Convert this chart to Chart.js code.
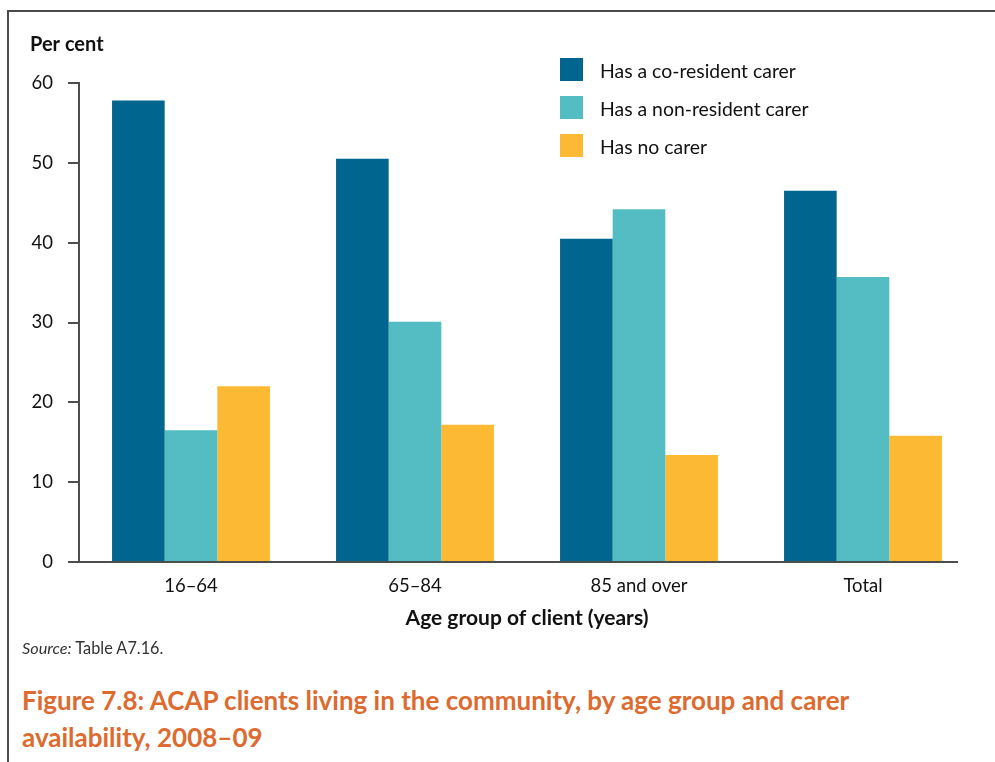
<!DOCTYPE html>
<html>
<head>
<meta charset="utf-8">
<script src="https://cdn.jsdelivr.net/npm/chart.js@4.4.1/dist/chart.umd.min.js"></script>
<style>
  body { margin: 0; background: #fff; font-family: Lato, sans-serif; }
  #frame { position: absolute; left: 7px; top: 10px; width: 1000px; height: 800px;
           border-left: 2px solid #4a4a4a; border-top: 2px solid #4a4a4a; }
  #wrap { position: absolute; left: 0; top: 0; width: 995px; height: 642px; }
  #source { position: absolute; left: 22px; top: 638px; font-size: 16.3px; color: #333; }
  #caption { position: absolute; left: 22px; top: 682px; font-size: 26px; font-weight: bold;
             color: #dd6a2f; line-height: 37px; white-space: nowrap; }
</style>
</head>
<body>
<div id="frame"></div>
<div id="wrap"><canvas id="chart" width="995" height="642"></canvas></div>
<div id="source"><i>Source:</i> Table A7.16.</div>
<div id="caption">Figure 7.8: ACAP clients living in the community, by age group and carer<br>availability, 2008–09</div>
<script>
const categories = ['16–64', '65–84', '85 and over', 'Total'];
const coResident = [57.8, 50.5, 40.5, 46.5];
const nonResident = [16.5, 30.1, 44.2, 35.7];
const noCarer = [22.0, 17.2, 13.4, 15.8];
const yTicks = [0, 10, 20, 30, 40, 50, 60];

const axisColor = '#4d4d4d';

// legend + x axis line + y title drawn by hand
const extras = {
  id: 'extras',
  afterDraw(chart) {
    const c = chart.ctx;
    const area = chart.chartArea;
    const y0 = chart.scales.y.getPixelForValue(0);
    c.save();
    c.strokeStyle = axisColor;
    c.lineWidth = 2;
    c.beginPath();
    c.moveTo(area.left - 11, y0);
    c.lineTo(area.right - 17, y0);
    c.stroke();

    c.fillStyle = '#111';
    c.font = 'bold 20px Lato';
    c.textBaseline = 'middle';
    c.fillText('Per cent', 30, 45);

    c.font = '19.4px Lato';
    chart.data.datasets.forEach((ds, i) => {
      const cy = 70 + i * 38;
      c.fillStyle = ds.backgroundColor;
      c.fillRect(560, cy - 12, 23, 23);
      c.fillStyle = '#111';
      c.fillText(ds.label, 600, cy + 2);
    });
    c.restore();
  }
};

new Chart(document.getElementById('chart'), {
  type: 'bar',
  data: {
    labels: categories,
    datasets: [
      { label: 'Has a co-resident carer', data: coResident, backgroundColor: '#006690' },
      { label: 'Has a non-resident carer', data: nonResident, backgroundColor: '#53bdc3' },
      { label: 'Has no carer', data: noCarer, backgroundColor: '#fbb934' }
    ]
  },
  options: {
    responsive: false,
    animation: false,
    layout: { padding: { top: 83, right: 20, left: 0, bottom: 0 } },
    categoryPercentage: 0.705,
    barPercentage: 1.0,
    plugins: { legend: { display: false }, tooltip: { enabled: false } },
    scales: {
      x: {
        grid: { display: false },
        border: { display: false },
        ticks: { color: '#111', font: { family: 'Lato', size: 18.5 }, padding: 5 },
        title: {
          display: true, text: 'Age group of client (years)', color: '#111',
          font: { family: 'Lato', size: 21, weight: 'bold' }, padding: { top: 0, bottom: 11 }
        },
        afterFit(scale) { scale.height = 80; }
      },
      y: {
        min: 0, max: 60,
        afterBuildTicks(scale) { scale.ticks = yTicks.map(v => ({ value: v })); },
        grid: { drawOnChartArea: false, tickLength: 11, color: axisColor, lineWidth: 2 },
        border: { color: axisColor, width: 2 },
        ticks: { color: '#111', font: { family: 'Lato', size: 18.5 }, padding: 15 },
        afterFit(scale) { scale.width = 79; }
      }
    }
  },
  plugins: [extras]
});
</script>
</body>
</html>
